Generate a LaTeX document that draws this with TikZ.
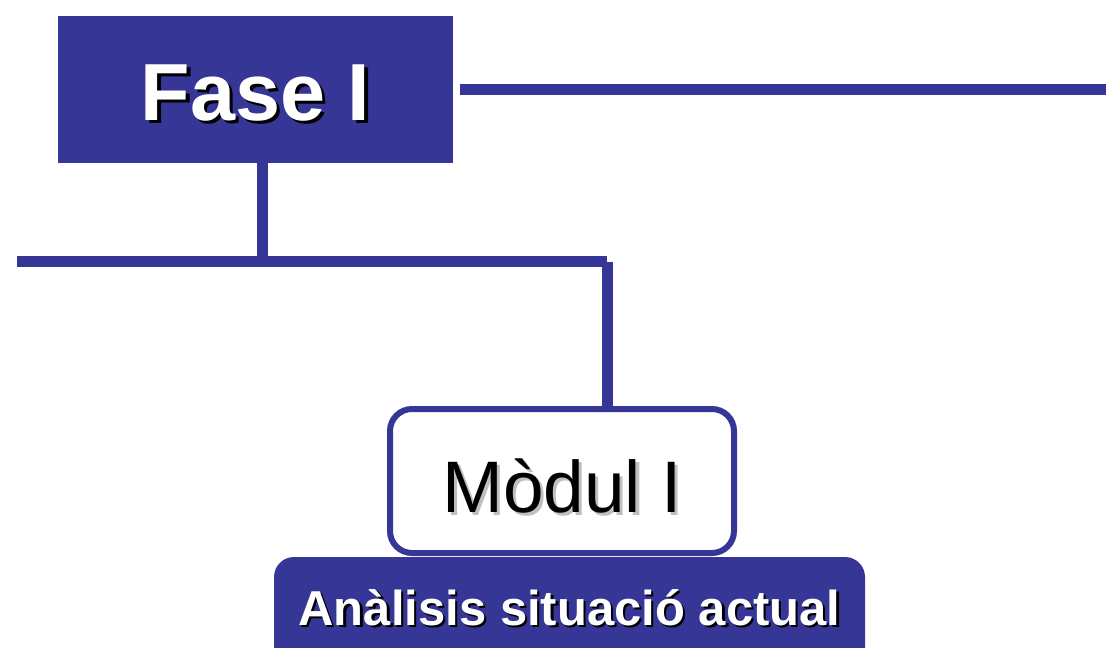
\documentclass[tikz,border=0pt]{standalone}
\usepackage{fontspec}
\setmainfont{Liberation Sans}
\usetikzlibrary{positioning, calc}
\definecolor{FaseBlue}{RGB}{54,54,150}
\newcommand{\shadowtxt}[3]{\rlap{\hspace{0.045em}\raisebox{-0.045em}{\color{#2}#3}}{\color{#1}#3}}

\begin{document}
\begin{tikzpicture}[x=1pt, y=-1pt,
    fasebox/.style={fill=FaseBlue, minimum width=395pt, minimum height=147pt, inner sep=0pt},
    modulbox/.style={draw=FaseBlue, fill=white, line width=6pt, rounded corners=22pt,
        minimum width=344pt, minimum height=144pt, inner sep=0pt},
    titlebox/.style={fill=FaseBlue, rounded corners=20pt, minimum width=591pt,
        minimum height=123pt, inner sep=0pt},
    link/.style={draw=FaseBlue, line width=11pt}]
    \useasboundingbox (0,0) rectangle (1106,648);
    \clip (0,0) rectangle (1106,648);

    % Phase header
    \node[fasebox, text height=61pt, text depth=0pt,
        font=\fontsize{81}{90}\selectfont\bfseries] (fase) at (255.5,89.5)
        {\shadowtxt{white}{black}{Fase I}};

    % Module box and its title
    \node[modulbox, text height=62pt, text depth=0pt,
        font=\fontsize{73}{80}\selectfont] (modul) at (562,481)
        {\shadowtxt{black}{black!25}{Mòdul I}};
    \node[titlebox, text height=40pt, text depth=27pt,
        font=\fontsize{49}{55}\selectfont\bfseries] (analisi) at (569.5,618.5)
        {\shadowtxt{white}{black}{Anàlisis situació actual}};

    % Connectors
    \coordinate (faseend) at (1106,89.5);
    \coordinate (branchL) at (17,261.5);
    \coordinate (branchJ) at (262.5,261.5);
    \coordinate (branchR) at (607,261.5);
    \coordinate (dropR) at (607.5,262);
    \draw[link] ($(fase.east)+(7,0)$) -- (faseend);
    \draw[link] (fase.south -| branchJ) -- (branchJ);
    \draw[link] (branchL) -- (branchR);
    \draw[link] (dropR) -- (dropR |- modul.north);
\end{tikzpicture}
\end{document}
